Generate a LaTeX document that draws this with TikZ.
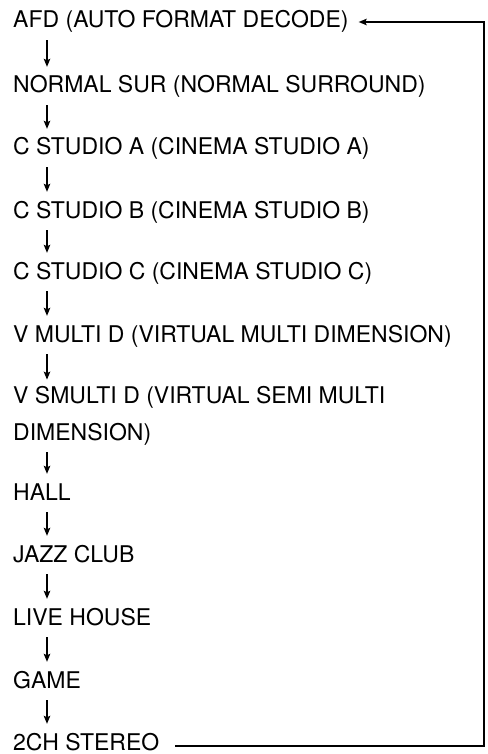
\documentclass[tikz,border=0pt]{standalone}
\usepackage{fontspec}
\setmainfont{TeX Gyre Heros}
\usetikzlibrary{arrows.meta,calc}
\tikzset{
  item/.style={anchor=base west,inner sep=0pt,font=\fontsize{23}{37}\selectfont,text height=16pt,text depth=5pt},
  flow/.style={line width=1.2pt,-{Stealth[length=8pt,width=6.5pt,inset=1.5pt]}},
  loop/.style={line width=1.4pt,-{Stealth[length=8pt,width=6.5pt,inset=1.5pt]}}
}
\begin{document}
\begin{tikzpicture}[x=1pt,y=-1pt]
\useasboundingbox (0,0) rectangle (487,754);
\node[item] (afd) at (13,28) {AFD (AUTO FORMAT DECODE)};
\node[item] (nsur) at (13,93) {NORMAL SUR (NORMAL SURROUND)};
\node[item] (csa) at (13,155) {C STUDIO A (CINEMA STUDIO A)};
\node[item] (csb) at (13,218) {C STUDIO B (CINEMA STUDIO B)};
\node[item] (csc) at (13,279) {C STUDIO C (CINEMA STUDIO C)};
\node[item] (vmd) at (13,342) {V MULTI D (VIRTUAL MULTI DIMENSION)};
\node[item,align=left,text height=,text depth=] (vsmd) at (13,440) {V SMULTI D (VIRTUAL SEMI MULTI\\DIMENSION)};
\node[item] (hall) at (13,500) {HALL};
\node[item] (jazz) at (13,562) {JAZZ CLUB};
\node[item] (live) at (13,625) {LIVE HOUSE};
\node[item] (game) at (13,688) {GAME};
\node[item] (st) at (13,750) {2CH STEREO};
\foreach \a/\b in {afd/nsur,nsur/csa,csa/csb,csb/csc,csc/vmd,vsmd/hall,hall/jazz,jazz/live,live/game,game/st}
  \draw[flow] ($(\a.south west)+(34,7)$) -- ($(\b.north west)+(34,-10)$);
\draw[flow] ($(vmd.south west)+(34,7)$) -- ($(vsmd.north west)+(34,-6)$);
\coordinate (corner) at (484,746);
\draw[loop] ($(st.base east)+(16,-4)$) -- (corner) |- ($(afd.base east)+(10,-6)$);
\end{tikzpicture}
\end{document}
